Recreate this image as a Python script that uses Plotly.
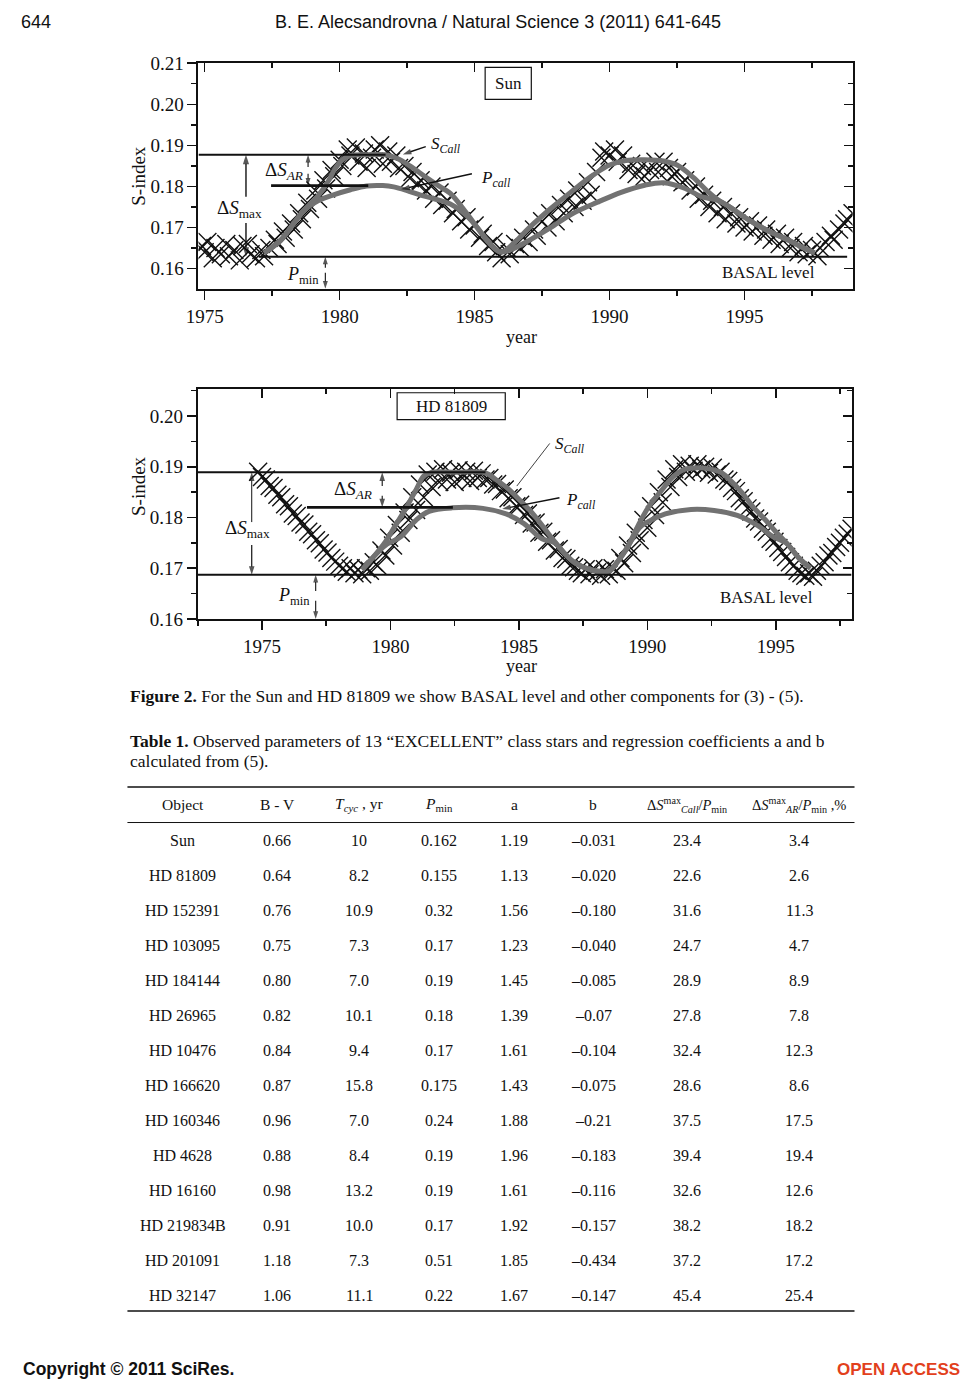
import plotly.graph_objects as go

W, H = 965, 1388


def xp(px):
    return px / W


def yp(py):
    return 1 - py / H


# ---------------- DATA: Sun ----------------
sun_obs_year = [1974.9, 1975.0, 1975.1, 1975.3, 1975.4, 1975.6, 1975.8, 1975.9, 1976.1, 1976.3,
                1976.4, 1976.6, 1976.7, 1976.9, 1977.1, 1977.2, 1977.4, 1977.6, 1977.7, 1977.9,
                1978.0, 1978.2, 1978.3, 1978.5, 1978.6, 1978.8, 1978.9, 1979.1, 1979.2, 1979.4,
                1979.5, 1979.7, 1979.8, 1980.0, 1980.1, 1980.3, 1980.4, 1980.6, 1980.7, 1980.9,
                1981.0, 1981.2, 1981.3, 1981.5, 1981.6, 1981.8, 1981.9, 1982.1, 1982.2, 1982.4,
                1982.6, 1982.7, 1982.9, 1983.0, 1983.2, 1983.4, 1983.5, 1983.7, 1983.8, 1984.0,
                1984.2, 1984.3, 1984.5, 1984.7, 1984.8, 1985.0, 1985.2, 1985.3, 1985.5, 1985.7,
                1985.8, 1986.0, 1986.2, 1986.3, 1986.5, 1986.7, 1986.8, 1987.0, 1987.2, 1987.3,
                1987.5, 1987.7, 1987.8, 1988.0, 1988.2, 1988.3, 1988.5, 1988.7, 1988.8, 1989.0,
                1989.2, 1989.3, 1989.5, 1989.7, 1989.8, 1990.0, 1990.2, 1990.3, 1990.5, 1990.7,
                1990.8, 1991.0, 1991.2, 1991.3, 1991.5, 1991.7, 1991.8, 1992.0, 1992.2, 1992.3,
                1992.5, 1992.7, 1992.8, 1993.0, 1993.2, 1993.3, 1993.5, 1993.7, 1993.8, 1994.0,
                1994.2, 1994.3, 1994.5, 1994.7, 1994.8, 1995.0, 1995.2, 1995.3, 1995.5, 1995.7,
                1995.8, 1996.0, 1996.2, 1996.3, 1996.5, 1996.7, 1996.8, 1997.0, 1997.2, 1997.3,
                1997.5, 1997.7, 1997.8, 1998.0, 1998.2, 1998.3, 1998.5, 1998.7, 1998.8, 1999.0]
sun_obs_s = [0.1655, 0.1640, 0.1665, 0.1625, 0.1650, 0.1635, 0.1660, 0.1630, 0.1645, 0.1620,
             0.1655, 0.1660, 0.1635, 0.1625, 0.1645, 0.1630, 0.1650, 0.1670, 0.1660, 0.1690,
             0.1675, 0.1710, 0.1695, 0.1735, 0.1720, 0.1760, 0.1745, 0.1790, 0.1770, 0.1815,
             0.1795, 0.1840, 0.1825, 0.1865, 0.1850, 0.1890, 0.1875, 0.1895, 0.1860, 0.1880,
             0.1845, 0.1870, 0.1890, 0.1900, 0.1855, 0.1885, 0.1860, 0.1875, 0.1845, 0.1850,
             0.1820, 0.1835, 0.1805, 0.1815, 0.1790, 0.1800, 0.1770, 0.1785, 0.1755, 0.1765,
             0.1735, 0.1745, 0.1715, 0.1725, 0.1695, 0.1705, 0.1675, 0.1685, 0.1655, 0.1665,
             0.1640, 0.1625, 0.1650, 0.1635, 0.1660, 0.1650, 0.1675, 0.1665, 0.1695, 0.1680,
             0.1715, 0.1700, 0.1735, 0.1715, 0.1755, 0.1735, 0.1770, 0.1750, 0.1790, 0.1765,
             0.1810, 0.1780, 0.1835, 0.1870, 0.1885, 0.1875, 0.1890, 0.1860, 0.1875, 0.1840,
             0.1855, 0.1830, 0.1850, 0.1825, 0.1840, 0.1860, 0.1835, 0.1860, 0.1845, 0.1825,
             0.1835, 0.1810, 0.1815, 0.1790, 0.1800, 0.1770, 0.1780, 0.1750, 0.1765, 0.1735,
             0.1750, 0.1720, 0.1735, 0.1710, 0.1725, 0.1700, 0.1715, 0.1690, 0.1705, 0.1680,
             0.1695, 0.1670, 0.1685, 0.1660, 0.1675, 0.1650, 0.1665, 0.1640, 0.1655, 0.1635,
             0.1645, 0.1630, 0.1650, 0.1665, 0.1680, 0.1670, 0.1695, 0.1710, 0.1720, 0.1735]

sun_scall_year = [1977.2, 1977.8, 1978.3, 1978.7, 1979.2, 1979.6, 1979.8, 1980.1, 1980.4, 1981.0,
                  1981.7, 1982.2, 1982.6, 1983.2, 1983.7, 1984.1, 1984.7, 1985.3, 1985.7, 1986.0,
                  1986.5, 1987.0, 1987.8, 1988.6, 1989.4, 1990.0, 1990.6, 1991.3, 1992.0, 1992.5,
                  1993.1, 1993.6, 1994.0, 1994.5, 1995.0, 1995.5, 1996.0, 1996.6, 1997.1, 1997.6]
sun_scall = [0.1638, 0.1668, 0.1710, 0.1743, 0.1777, 0.1815, 0.1840, 0.1865, 0.1875, 0.1877,
             0.1877, 0.1866, 0.1850, 0.1822, 0.1800, 0.1783, 0.1735, 0.1682, 0.1652, 0.1640,
             0.1665, 0.1698, 0.1745, 0.1788, 0.1828, 0.1852, 0.1863, 0.1865, 0.1862, 0.1852,
             0.1822, 0.1790, 0.1768, 0.1748, 0.1725, 0.1705, 0.1688, 0.1670, 0.1653, 0.1638]

sun_pcall_year = [1977.2, 1977.8, 1978.3, 1978.7, 1979.2, 1979.8, 1980.4, 1981.0, 1981.6, 1982.0,
                  1982.5, 1983.0, 1983.5, 1984.1, 1984.6, 1985.1, 1985.5, 1985.9, 1986.3, 1987.0,
                  1987.8, 1988.6, 1989.6, 1990.4, 1991.3, 1992.0, 1992.8, 1993.4, 1994.0, 1994.5,
                  1995.0, 1995.5, 1996.0, 1996.6, 1997.1, 1997.6]
sun_pcall = [0.1638, 0.1668, 0.1710, 0.1743, 0.1765, 0.1780, 0.1792, 0.1801, 0.1802, 0.1799,
             0.1790, 0.1779, 0.1770, 0.1757, 0.1735, 0.1700, 0.1665, 0.1642, 0.1645, 0.1668,
             0.1699, 0.1733, 0.1763, 0.1785, 0.1803, 0.1809, 0.1795, 0.1775, 0.1766, 0.1748,
             0.1725, 0.1705, 0.1688, 0.1670, 0.1653, 0.1638]

sun_smax_level = 0.1877
sun_ar_level = 0.1802
sun_basal_level = 0.1629

# ---------------- DATA: HD 81809 ----------------
hd_obs_year = [1974.85, 1975.0, 1975.15, 1975.3, 1975.45, 1975.6, 1975.75, 1975.9, 1976.05, 1976.2,
               1976.35, 1976.5, 1976.65, 1976.8, 1976.95, 1977.1, 1977.25, 1977.4, 1977.55, 1977.7,
               1977.85, 1978.0, 1978.15, 1978.3, 1978.45, 1978.6, 1978.75, 1978.9, 1979.05, 1979.2,
               1979.35, 1979.5, 1979.65, 1979.8, 1979.95, 1980.1, 1980.25, 1980.4, 1980.55, 1980.7,
               1980.85, 1981.0, 1981.15, 1981.3, 1981.45, 1981.6, 1981.75, 1981.9, 1982.05, 1982.2,
               1982.35, 1982.5, 1982.65, 1982.8, 1982.95, 1983.1, 1983.25, 1983.4, 1983.55, 1983.7,
               1983.85, 1984.0, 1984.15, 1984.3, 1984.45, 1984.6, 1984.75, 1984.9, 1985.05, 1985.2,
               1985.35, 1985.5, 1985.65, 1985.8, 1985.95, 1986.1, 1986.25, 1986.4, 1986.55, 1986.7,
               1986.85, 1987.0, 1987.15, 1987.3, 1987.45, 1987.6, 1987.75, 1987.9, 1988.05, 1988.2,
               1988.35, 1988.5, 1988.65, 1988.8, 1988.95, 1989.1, 1989.25, 1989.4, 1989.55, 1989.7,
               1989.85, 1990.0, 1990.15, 1990.3, 1990.45, 1990.6, 1990.75, 1990.9, 1991.05, 1991.2,
               1991.35, 1991.5, 1991.65, 1991.8, 1991.95, 1992.1, 1992.25, 1992.4, 1992.55, 1992.7,
               1992.85, 1993.0, 1993.15, 1993.3, 1993.45, 1993.6, 1993.75, 1993.9, 1994.05, 1994.2,
               1994.35, 1994.5, 1994.65, 1994.8, 1994.95, 1995.1, 1995.25, 1995.4, 1995.55, 1995.7,
               1995.85, 1996.0, 1996.15, 1996.3, 1996.45, 1996.6, 1996.75, 1996.9, 1997.05, 1997.2,
               1997.35, 1997.5, 1997.65, 1997.8, 1997.95]
hd_obs_s = [0.1890, 0.1880, 0.1875, 0.1862, 0.1858, 0.1845, 0.1840, 0.1826, 0.1822, 0.1808,
            0.1803, 0.1790, 0.1786, 0.1772, 0.1767, 0.1755, 0.1749, 0.1737, 0.1731, 0.1720,
            0.1713, 0.1705, 0.1700, 0.1693, 0.1700, 0.1690, 0.1697, 0.1688, 0.1700, 0.1695,
            0.1712, 0.1705, 0.1735, 0.1725, 0.1760, 0.1745, 0.1785, 0.1770, 0.1810, 0.1795,
            0.1840, 0.1815, 0.1865, 0.1840, 0.1885, 0.1860, 0.1890, 0.1870, 0.1895, 0.1875,
            0.1888, 0.1870, 0.1893, 0.1878, 0.1890, 0.1872, 0.1892, 0.1878, 0.1887, 0.1875,
            0.1878, 0.1865, 0.1866, 0.1852, 0.1855, 0.1838, 0.1840, 0.1822, 0.1825, 0.1805,
            0.1808, 0.1788, 0.1790, 0.1770, 0.1772, 0.1752, 0.1755, 0.1735, 0.1738, 0.1720,
            0.1718, 0.1705, 0.1702, 0.1695, 0.1690, 0.1698, 0.1688, 0.1700, 0.1692, 0.1685,
            0.1698, 0.1688, 0.1700, 0.1695, 0.1720, 0.1710, 0.1745, 0.1730, 0.1770, 0.1755,
            0.1795, 0.1780, 0.1822, 0.1805, 0.1850, 0.1830, 0.1875, 0.1860, 0.1895, 0.1880,
            0.1905, 0.1890, 0.1902, 0.1892, 0.1905, 0.1895, 0.1900, 0.1888, 0.1898, 0.1885,
            0.1890, 0.1875, 0.1872, 0.1858, 0.1852, 0.1838, 0.1832, 0.1818, 0.1812, 0.1798,
            0.1792, 0.1778, 0.1772, 0.1758, 0.1752, 0.1740, 0.1732, 0.1722, 0.1712, 0.1705,
            0.1695, 0.1690, 0.1685, 0.1690, 0.1683, 0.1695, 0.1705, 0.1712, 0.1725, 0.1730,
            0.1742, 0.1750, 0.1760, 0.1768, 0.1778]

hd_scall_year = [1978.9, 1979.3, 1979.8, 1980.2, 1980.6, 1981.0, 1981.3, 1981.6, 1982.5, 1983.7,
                 1984.1, 1984.6, 1985.0, 1985.5, 1986.0, 1986.4, 1986.8, 1987.2, 1987.8, 1988.5,
                 1988.8, 1989.2, 1989.7, 1990.1, 1990.5, 1991.0, 1991.4, 1992.0, 1992.5, 1992.9,
                 1993.3, 1993.7, 1994.1, 1994.6, 1995.0, 1995.5, 1995.9, 1996.35]
hd_scall = [0.1697, 0.1720, 0.1752, 0.1785, 0.1818, 0.1855, 0.1882, 0.1889, 0.1889, 0.1888,
            0.1875, 0.1856, 0.1836, 0.1810, 0.1778, 0.1752, 0.1728, 0.1710, 0.1697, 0.1694,
            0.1710, 0.1739, 0.1790, 0.1825, 0.1850, 0.1880, 0.1894, 0.1898, 0.1895, 0.1888,
            0.1870, 0.1848, 0.1822, 0.1795, 0.1772, 0.1745, 0.1720, 0.1700]

hd_pcall_year = [1978.9, 1979.3, 1979.8, 1980.4, 1981.0, 1981.5, 1982.4, 1983.6, 1984.5, 1985.2,
                 1985.9, 1986.4, 1986.8, 1987.2, 1987.8, 1988.5, 1988.8, 1989.2, 1989.7, 1990.0,
                 1990.7, 1991.7, 1992.6, 1993.5, 1994.3, 1994.9, 1995.4, 1995.9, 1996.35]
hd_pcall = [0.1697, 0.1720, 0.1745, 0.1762, 0.1795, 0.1812, 0.1819, 0.1818, 0.1807, 0.1788,
            0.1758, 0.1750, 0.1728, 0.1710, 0.1697, 0.1694, 0.1710, 0.1739, 0.1780, 0.1791,
            0.1807, 0.1816, 0.1814, 0.1804, 0.1784, 0.1762, 0.1750, 0.1720, 0.1700]

hd_smax_level = 0.1889
hd_ar_level = 0.1820
hd_basal_level = 0.1687

# ---------------- DATA: Table 1 ----------------
tbl_object = ["Sun", "HD 81809", "HD 152391", "HD 103095", "HD 184144", "HD 26965", "HD 10476",
              "HD 166620", "HD 160346", "HD 4628", "HD 16160", "HD 219834B", "HD 201091", "HD 32147"]
tbl_bv = ["0.66", "0.64", "0.76", "0.75", "0.80", "0.82", "0.84", "0.87", "0.96", "0.88", "0.98",
          "0.91", "1.18", "1.06"]
tbl_tcyc = ["10", "8.2", "10.9", "7.3", "7.0", "10.1", "9.4", "15.8", "7.0", "8.4", "13.2", "10.0",
            "7.3", "11.1"]
tbl_pmin = ["0.162", "0.155", "0.32", "0.17", "0.19", "0.18", "0.17", "0.175", "0.24", "0.19", "0.19",
            "0.17", "0.51", "0.22"]
tbl_a = ["1.19", "1.13", "1.56", "1.23", "1.45", "1.39", "1.61", "1.43", "1.88", "1.96", "1.61",
         "1.92", "1.85", "1.67"]
tbl_b = ["–0.031", "–0.020", "–0.180", "–0.040", "–0.085", "–0.07", "–0.104", "–0.075", "–0.21",
         "–0.183", "–0.116", "–0.157", "–0.434", "–0.147"]
tbl_dscall = ["23.4", "22.6", "31.6", "24.7", "28.9", "27.8", "32.4", "28.6", "37.5", "39.4", "32.6",
              "38.2", "37.2", "45.4"]
tbl_dsar = ["3.4", "2.6", "11.3", "4.7", "8.9", "7.8", "12.3", "8.6", "17.5", "19.4", "12.6", "18.2",
            "17.2", "25.4"]
tbl_headers = ["Object", "B - V", "<i>T</i><sub><i>cyc</i></sub> , yr", "<i>P</i><sub>min</sub>", "a", "b",
               "Δ<i>S</i><sup>max</sup><sub><i>Call</i></sub>/<i>P</i><sub>min</sub>",
               "Δ<i>S</i><sup>max</sup><sub><i>AR</i></sub>/<i>P</i><sub>min</sub> ,%"]

x_tick_labels = ["1975", "1980", "1985", "1990", "1995"]

# ---------------- FIGURE ----------------
SERIF = "Liberation Serif, Times New Roman, serif"
SANS = "Liberation Sans, Arial, sans-serif"
GRAY = "#727272"
BLACK = "#111111"

fig = go.Figure()

marker_style = dict(symbol="x-thin", size=18, line=dict(width=1.4, color=BLACK), color=BLACK)


def add_arrow(xa, ya, x0, y0, x1, y1, width=1.4, head=10):
    """Line from tail (x0, y0) to an arrow head at (x1, y1)."""
    fig.add_trace(go.Scatter(
        x=[x0, x1], y=[y0, y1], mode="lines+markers", xaxis=xa, yaxis=ya,
        line=dict(color=BLACK, width=width),
        marker=dict(symbol="arrow", size=[0, head], angleref="previous", color=BLACK,
                    line=dict(width=0)),
        showlegend=False, hoverinfo="skip"))


def add_line(xa, ya, xs, ys, width):
    fig.add_trace(go.Scatter(x=xs, y=ys, mode="lines", line=dict(color=BLACK, width=width),
                             xaxis=xa, yaxis=ya, showlegend=False, hoverinfo="skip"))


def add_panel(xa, ya, oy, os_, cy, cs, py_, ps, levels, xlo_smax, xrange_ar, x_basal, xr):
    fig.add_trace(go.Scatter(x=oy, y=os_, mode="markers", marker=marker_style,
                             xaxis=xa, yaxis=ya, showlegend=False, hoverinfo="skip"))
    fig.add_trace(go.Scatter(x=py_, y=ps, mode="lines", line=dict(color=GRAY, width=5, shape="spline"),
                             xaxis=xa, yaxis=ya, showlegend=False, hoverinfo="skip"))
    fig.add_trace(go.Scatter(x=cy, y=cs, mode="lines", line=dict(color=GRAY, width=5, shape="spline"),
                             xaxis=xa, yaxis=ya, showlegend=False, hoverinfo="skip"))
    smax, ar, basal = levels
    add_line(xa, ya, [xr[0], xlo_smax], [smax, smax], 2)
    add_line(xa, ya, list(xrange_ar), [ar, ar], 2.6)
    add_line(xa, ya, list(x_basal), [basal, basal], 2)


sun_xr = [1974.77, 1999.0]
sun_yr = [0.1551, 0.2100]
hd_xr = [1972.5, 1997.95]
hd_yr = [0.1600, 0.2053]

add_panel("x", "y", sun_obs_year, sun_obs_s, sun_scall_year, sun_scall, sun_pcall_year, sun_pcall,
          (sun_smax_level, sun_ar_level, sun_basal_level), 1981.7, (1977.46, 1981.06),
          (1977.0, 1998.8), sun_xr)
add_panel("x3", "y3", hd_obs_year, hd_obs_s, hd_scall_year, hd_scall, hd_pcall_year, hd_pcall,
          (hd_smax_level, hd_ar_level, hd_basal_level), 1983.7, (1976.75, 1982.43),
          (hd_xr[0], hd_xr[1]), hd_xr)

# --- Sun panel arrows ---
add_arrow("x", "y", 1976.53, 0.1775, 1976.53, sun_smax_level)
add_arrow("x", "y", 1976.53, 0.1711, 1976.53, sun_basal_level)
add_arrow("x", "y", 1978.83, 0.1847, 1978.83, sun_smax_level, width=1.1, head=8)
add_arrow("x", "y", 1978.83, 0.1831, 1978.83, sun_ar_level, width=1.1, head=8)
add_arrow("x", "y", 1979.47, 0.1602, 1979.47, sun_basal_level, width=1.1, head=8)
add_arrow("x", "y", 1979.47, 0.1590, 1979.47, sun_yr[0], width=1.1, head=8)
add_arrow("x", "y", 1983.19, 0.1897, 1982.34, 0.1878, width=1.4, head=9)
add_arrow("x", "y", 1984.9, 0.1831, 1982.28, 0.1793, width=1.4, head=9)

# --- HD panel arrows ---
add_arrow("x3", "y3", 1974.6, 0.1791, 1974.6, hd_smax_level, width=1.0, head=9)
add_arrow("x3", "y3", 1974.6, 0.1746, 1974.6, hd_basal_level, width=1.2, head=9)
add_arrow("x3", "y3", 1979.68, 0.1862, 1979.68, hd_smax_level, width=1.1, head=9)
add_arrow("x3", "y3", 1979.68, 0.1843, 1979.68, hd_ar_level, width=1.1, head=9)
add_arrow("x3", "y3", 1977.09, 0.1655, 1977.09, hd_basal_level, width=1.1, head=8)
add_arrow("x3", "y3", 1977.09, 0.1636, 1977.09, hd_yr[0], width=1.1, head=8)
add_line("x3", "y3", [1986.2, 1984.92], [0.1946, 0.1862], 0.8)
add_arrow("x3", "y3", 1986.58, 0.1839, 1984.35, 0.1817, width=1.4, head=9)

# dummy traces for mirrored (inside-tick) axes
fig.add_trace(go.Scatter(x=[None], y=[None], xaxis="x2", yaxis="y2", showlegend=False, hoverinfo="skip"))
fig.add_trace(go.Scatter(x=[None], y=[None], xaxis="x4", yaxis="y4", showlegend=False, hoverinfo="skip"))

tickfont = dict(family=SERIF, size=19, color=BLACK)


def xaxis_main(domain, rng, anchor):
    return dict(domain=domain, range=rng, anchor=anchor, showline=True, linecolor=BLACK, linewidth=2,
                ticks="outside", ticklen=9, tickwidth=1.5, tickcolor=BLACK,
                tickvals=[int(t) for t in x_tick_labels], ticktext=x_tick_labels,
                minor=dict(ticks="outside", ticklen=5, tickwidth=1.5, tickcolor=BLACK,
                           tick0=1972.5, dtick=2.5),
                showgrid=False, zeroline=False, tickfont=tickfont, fixedrange=True)


def xaxis_mirror(over, rng, anchor):
    return dict(overlaying=over, side="top", range=rng, anchor=anchor, showline=True, linecolor=BLACK,
                linewidth=2, ticks="inside", ticklen=9, tickwidth=1.5, tickcolor=BLACK,
                tickvals=[int(t) for t in x_tick_labels], showticklabels=False,
                minor=dict(ticks="inside", ticklen=5, tickwidth=1.5, tickcolor=BLACK,
                           tick0=1972.5, dtick=2.5),
                showgrid=False, zeroline=False, fixedrange=True)


def yaxis_main(domain, rng, anchor):
    return dict(domain=domain, range=rng, anchor=anchor, showline=True, linecolor=BLACK, linewidth=2,
                ticks="outside", ticklen=9, tickwidth=1.5, tickcolor=BLACK,
                tick0=0.16, dtick=0.01, tickformat=".2f",
                minor=dict(ticks="outside", ticklen=5, tickwidth=1.5, tickcolor=BLACK,
                           tick0=0.155, dtick=0.005),
                showgrid=False, zeroline=False, tickfont=tickfont, fixedrange=True)


def yaxis_mirror(over, rng, anchor):
    return dict(overlaying=over, side="right", range=rng, anchor=anchor, showline=True, linecolor=BLACK,
                linewidth=2, ticks="inside", ticklen=9, tickwidth=1.5, tickcolor=BLACK,
                tick0=0.16, dtick=0.01, showticklabels=False,
                minor=dict(ticks="inside", ticklen=5, tickwidth=1.5, tickcolor=BLACK,
                           tick0=0.155, dtick=0.005),
                showgrid=False, zeroline=False, fixedrange=True)


fig.update_layout(
    width=W, height=H, margin=dict(l=0, r=0, t=0, b=0),
    paper_bgcolor="white", plot_bgcolor="white", showlegend=False, hovermode=False,
    xaxis=xaxis_main([xp(188), xp(851)], sun_xr, "y"),
    yaxis=yaxis_main([yp(283), yp(54)], sun_yr, "x"),
    xaxis2=xaxis_mirror("x", sun_xr, "y"),
    yaxis2=yaxis_mirror("y", sun_yr, "x"),
    xaxis3=xaxis_main([xp(187.3), xp(850)], hd_xr, "y3"),
    yaxis3=yaxis_main([yp(618.3), yp(385)], hd_yr, "x3"),
    xaxis4=xaxis_mirror("x3", hd_xr, "y3"),
    yaxis4=yaxis_mirror("y3", hd_yr, "x3"),
)

ann = []
shapes = []


def label(xr_, yr_, x, y, text, size=18, xanchor="center"):
    ann.append(dict(xref=xr_, yref=yr_, x=x, y=y, text=text, showarrow=False, xanchor=xanchor,
                    yanchor="middle", font=dict(family=SERIF, size=size, color=BLACK)))


# --- Sun panel labels ---
label("x", "y", 1976.28, 0.1744, "Δ<i>S</i><sub>max</sub>", size=19)
label("x", "y", 1977.95, 0.1838, "Δ<i>S</i><sub><i>AR</i></sub>", size=19)
label("x", "y", 1978.64, 0.1582, "<i>P</i><sub>min</sub>", size=18)
label("x", "y", 1983.3, 0.1902, "<i>S</i><sub><i>Call</i></sub>", size=17, xanchor="left")
label("x", "y", 1985.15, 0.1819, "<i>P</i><sub><i>call</i></sub>", size=17, xanchor="left")
label("x", "y", 1995.88, 0.1590, "BASAL level", size=17)
label("x", "y", 1986.25, 0.2051, "Sun", size=17)
shapes.append(dict(type="rect", xref="x", yref="y", x0=1985.39, x1=1987.1, y0=0.2012, y1=0.2090,
                   line=dict(color=BLACK, width=1.2)))

# --- HD 81809 panel labels ---
label("x3", "y3", 1974.42, 0.1778, "Δ<i>S</i><sub>max</sub>", size=19)
label("x3", "y3", 1978.56, 0.1854, "Δ<i>S</i><sub><i>AR</i></sub>", size=19)
label("x3", "y3", 1976.24, 0.1645, "<i>P</i><sub>min</sub>", size=18)
label("x3", "y3", 1986.32, 0.1943, "<i>S</i><sub><i>Call</i></sub>", size=17, xanchor="left")
label("x3", "y3", 1986.77, 0.1833, "<i>P</i><sub><i>call</i></sub>", size=17, xanchor="left")
label("x3", "y3", 1994.65, 0.1642, "BASAL level", size=17)
label("x3", "y3", 1982.37, 0.20195, "HD 81809", size=17)
shapes.append(dict(type="rect", xref="x3", yref="y3", x0=1980.26, x1=1984.47, y0=0.1993, y1=0.2046,
                   line=dict(color=BLACK, width=1.2)))


def ptext(px, py, text, size, family=SERIF, xanchor="center", color=BLACK, angle=0):
    ann.append(dict(xref="paper", yref="paper", x=xp(px), y=yp(py), text=text, showarrow=False,
                    xanchor=xanchor, yanchor="middle", textangle=angle,
                    font=dict(family=family, size=size, color=color)))


# --- axis titles ---
ptext(127, 168, "S-index", 19, angle=-90)
ptext(515, 332, "year", 18)
ptext(127, 483, "S-index", 19, angle=-90)
ptext(515, 666, "year", 18)

# --- page header / caption / footer ---
ptext(6, 12, "644", 18, family=SANS, xanchor="left")
ptext(492, 12, "B. E. Alecsandrovna / Natural Science 3 (2011) 641-645", 18, family=SANS)
ptext(117, 697, "<b>Figure 2.</b> For the Sun and HD 81809 we show BASAL level and other components for (3) - (5).",
      17.5, xanchor="left")
ptext(117, 742, "<b>Table 1.</b> Observed parameters of 13 “EXCELLENT” class stars and regression coefficients a and b",
      17.5, xanchor="left")
ptext(117, 763, "calculated from (5).", 17.5, xanchor="left")
ptext(8, 1380, "<b>Copyright © 2011 SciRes.</b>", 17.5, family=SANS, xanchor="left")
ptext(962, 1380, "<b>OPEN ACCESS</b>", 17, family=SANS, xanchor="right", color="#e2401c")

# --- table ---
col_x = [172, 268, 351, 432, 508, 588, 683, 797]
header_sizes = [15.5, 15.5, 15.5, 15.5, 15.5, 15.5, 14.5, 14.5]
for cx, htxt, hs in zip(col_x, tbl_headers, header_sizes):
    ptext(cx, 807, htxt, hs)
row_y0, row_dy = 843, 35.54
columns = [tbl_object, tbl_bv, tbl_tcyc, tbl_pmin, tbl_a, tbl_b, tbl_dscall, tbl_dsar]
for ci, col in enumerate(columns):
    for ri, val in enumerate(col):
        ptext(col_x[ci], row_y0 + ri * row_dy, val, 16)

for yy, wdt in [(789, 1.5), (825, 1.0), (1321, 1.5)]:
    shapes.append(dict(type="line", xref="paper", yref="paper", x0=xp(116), x1=xp(853),
                       y0=yp(yy), y1=yp(yy), line=dict(color=BLACK, width=wdt)))

fig.update_layout(annotations=ann, shapes=shapes)
fig.write_html("out.html", config={"displayModeBar": False, "staticPlot": True},
               post_script="document.body.style.margin='0px';")
